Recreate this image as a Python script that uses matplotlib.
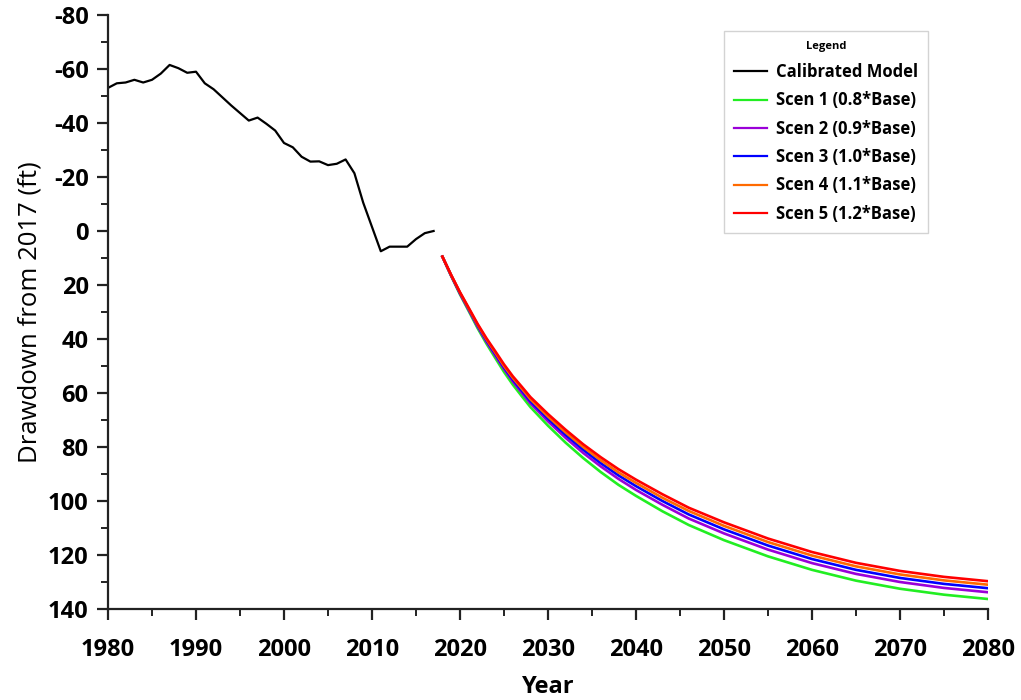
import numpy as np
import matplotlib
matplotlib.use('Agg')
from matplotlib import pyplot as plt
from matplotlib.ticker import MultipleLocator

plt.rcParams['font.family'] = ['Open Sans', 'DejaVu Sans']
plt.rcParams['axes.unicode_minus'] = False

# Calibrated model (historical)
cal_years = np.arange(1980, 2018)
cal_dd = [-53, -54.7, -55, -56, -55, -56, -58.3, -61.5, -60.3, -58.6,
          -59, -54.7, -52.5, -49.5, -46.5, -43.7, -40.9, -42, -39.7, -37.2,
          -32.6, -31, -27.5, -25.7, -25.8, -24.4, -24.9, -26.5, -21.4, -10.5,
          -1.5, 7.5, 5.8, 5.8, 5.8, 3, 0.8, 0]

# Scenario projections
scen_years = [2018, 2019, 2020, 2021, 2022, 2023, 2024, 2025, 2026, 2027, 2028,
              2030, 2032, 2034, 2036, 2038, 2040, 2043, 2046, 2050, 2055, 2060,
              2065, 2070, 2075, 2080]
scen1 = [9.5, 16.7, 23.5, 29.7, 36.0, 41.7, 47.0, 52.2, 56.9, 61.1, 65.2,
         72.1, 78.4, 84.1, 89.3, 94.0, 98.1, 103.8, 108.9, 114.5, 120.5, 125.5,
         129.5, 132.5, 134.7, 136.3]
scen2 = [9.5, 16.6, 23.2, 29.3, 35.4, 41.0, 46.1, 51.1, 55.7, 59.8, 63.8,
         70.5, 76.6, 82.2, 87.2, 91.8, 95.9, 101.4, 106.5, 112.0, 118.0, 123.0,
         127.0, 130.0, 132.2, 133.8]
scen3 = [9.5, 16.5, 23.0, 29.0, 35.0, 40.5, 45.5, 50.5, 55.0, 59.0, 63.0,
         69.5, 75.5, 81.0, 86.0, 90.5, 94.5, 100.0, 105.0, 110.5, 116.5, 121.5,
         125.5, 128.5, 130.7, 132.3]
scen4 = [9.5, 16.4, 22.8, 28.8, 34.7, 40.1, 45.0, 50.0, 54.4, 58.3, 62.3,
         68.7, 74.6, 80.0, 84.9, 89.4, 93.3, 98.8, 103.7, 109.2, 115.2, 120.2,
         124.2, 127.2, 129.4, 131.0]
scen5 = [9.5, 16.3, 22.7, 28.5, 34.4, 39.7, 44.5, 49.4, 53.8, 57.6, 61.5,
         67.8, 73.6, 79.0, 83.8, 88.2, 92.1, 97.5, 102.5, 107.9, 113.9, 118.9,
         122.9, 125.9, 128.1, 129.7]

scen_labels = ['Scen 1 (0.8*Base)', 'Scen 2 (0.9*Base)', 'Scen 3 (1.0*Base)',
               'Scen 4 (1.1*Base)', 'Scen 5 (1.2*Base)']
scen_colors = ['#22ee22', '#9a00d8', '#0000ff', '#ff6a00', '#ff0000']

fig = plt.figure(figsize=(10.21, 7), dpi=100)
ax = fig.add_axes([108/1021, 1-609/700, (988-108)/1021, (609-15)/700])

h_cal, = ax.plot(cal_years, cal_dd, color='black', lw=1.6, label='Calibrated Model')
handles = []
for s, lab, c in zip([scen1, scen2, scen3, scen4, scen5], scen_labels, scen_colors):
    h, = ax.plot(scen_years, s, color=c, lw=1.9, label=lab)
    handles.append(h)

ax.set_xlim(1980, 2080)
ax.set_ylim(140, -80)
ax.xaxis.set_major_locator(MultipleLocator(10))
ax.xaxis.set_minor_locator(MultipleLocator(5))
ax.yaxis.set_major_locator(MultipleLocator(20))
ax.yaxis.set_minor_locator(MultipleLocator(10))

for side in ['top', 'right']:
    ax.spines[side].set_visible(False)
for side in ['left', 'bottom']:
    ax.spines[side].set_linewidth(1.6)
    ax.spines[side].set_color('#222222')

ax.tick_params(which='major', direction='out', length=8, width=1.6, color='#222222', pad=6)
ax.tick_params(which='minor', direction='out', length=5, width=1.4, color='#222222')
ax.tick_params(axis='x', which='major', pad=13)
for t in ax.get_xticklabels() + ax.get_yticklabels():
    t.set_fontsize(17)
    t.set_fontweight('bold')

ax.set_xlabel('Year', fontsize=17, fontweight='bold', labelpad=9)
ax.set_ylabel('Drawdown from 2017 (ft)', fontsize=18.5, labelpad=4)

leg = ax.legend(handles=[h_cal] + handles, title='Legend', loc='upper left',
                bbox_to_anchor=(724/1021, 1-31/700), bbox_transform=fig.transFigure,
                fancybox=False, frameon=True, edgecolor='#c8c8c8',
                prop={'weight': 'bold', 'size': 12}, title_fontproperties={'weight': 'bold', 'size': 8},
                handlelength=2.0, handletextpad=0.5, labelspacing=0.62, borderpad=0.6,
                borderaxespad=0)
leg.get_frame().set_linewidth(1.0)
leg._legend_box.sep = 8
for line in leg.get_lines():
    line.set_linewidth(1.6)

fig.savefig('out.png', dpi=100)
